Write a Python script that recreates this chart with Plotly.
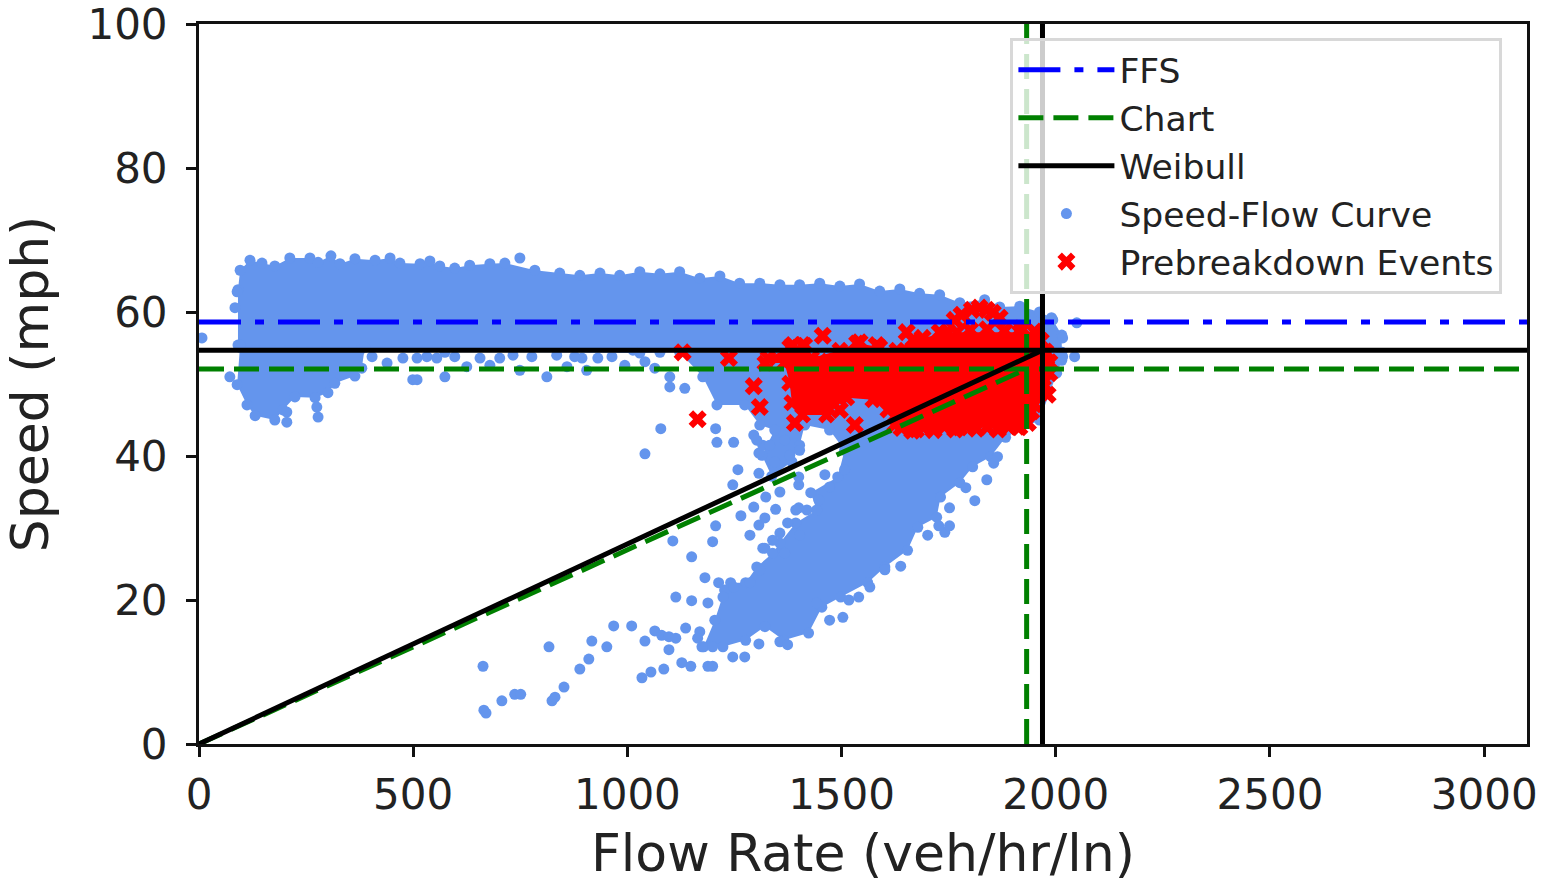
import plotly.graph_objects as go

# Reference lines
ffs_speed = 58.6
chart_speed = 52.1
chart_flow = 1932
weibull_speed = 54.7
weibull_flow = 1969
axis_x_max = 3100
axis_y_max = 100

# Outline of the dense free-flow band
band_flow = [91,91,96,119,147,177,212,259,278,308,329,364,411,446,469,516,539,562,597,632,679,714,784,842,889,936,982,1029,1076,1122,1169,1216,1262,1309,1356,1402,1449,1496,1542,1589,1636,1682,1729,1776,1834,1869,1916,1962,1990,2014,2014,1076,1029,376,96]
band_speed = [55.4,63.1,65.8,67.2,66.8,66.4,67.5,67.5,66.9,67.8,66.7,67.4,67.2,67.5,66.8,66.7,67.1,66.4,66.1,66.5,66.7,66.8,65.8,65.4,65.1,65.4,65.1,65.6,65.3,65.6,64.7,65.0,64.0,64.0,63.8,63.8,64.0,63.6,63.9,62.9,63.2,62.6,62.4,61.3,61.7,60.7,60.8,60.0,59.2,56.8,54.4,54.4,54.3,54.7,55.1]

# Outline of the low-flow blob under the band
blob_flow = [96,89,112,131,177,196,224,271,301,317,364,380,387]
blob_speed = [55.4,49.9,47.1,45.6,45.0,46.4,48.2,48.1,48.8,50.1,51.1,52.2,55.1]

# Outline of the congested cloud
cloud_flow = [1122,1176,1209,1274,1309,1344,1314,1337,1384,1402,1414,1472,1507,1491,1428,1442,1393,1356,1339,1302,1276,1241,1227,1204,1178,1223,1276,1321,1365,1423,1454,1498,1561,1601,1654,1678,1722,1731,1776,1806,1848,1883,1962,2014,2014]
cloud_speed = [54.4,51.0,47.1,47.1,44.3,43.6,40.1,37.2,39.2,41.5,44.3,43.6,40.8,37.1,34.9,32.5,30.7,27.9,26.5,24.6,22.4,22.4,21.4,17.2,13.5,13.5,14.4,16.3,14.4,15.4,19.0,20.4,22.4,24.6,26.9,30.1,31.5,34.3,36.3,38.5,39.9,42.6,45.0,53.3,54.4]

# Individually visible speed-flow observations
point_flow = [404,439,476,509,532,499,509,574,574,625,656,679,733,777,812,835,859,905,894,931,964,1013,1041,1099,1099,1134,1078,1041,555,597,702,749,877,994,1064,
              749,89,84,72,7,205,205,275,278,2016,2049,2016,2044,2002,1993,
              663,665,670,707,737,751,817,824,831,852,889,910,917,952,968,1010,1041,1034,1055,1085,1064,1080,1097,1113,1097,1136,1127,1148,1188,1199,1169,1164,1174,1199,1113,1150,1188,1181,1150,1106,1199,1206,1265,1295,1346,1323,1400,1356,1246,1258,1307,1209,1248,1206,1295,1307,1316,1286,1316,1307,1321,1400,1811,1701,1741,1752,1727,1752,1839,1790,1855,1864,1638,1274,1246,1307,1356,1374,1472,1503,1442,1517,1540,1566,1601,
              1302,1332,1367,1402,1379,1344,1400,1393,1374,1356,1321,1339,1472,1447,1419,1461,1507,1213,1223,1248,1286,1309,1367,1402]
point_speed = [53.8,52.9,53.6,53.6,53.8,50.6,50.6,51.0,54.4,52.4,53.6,52.6,54.0,53.8,51.0,54.0,52.4,51.9,53.6,53.6,53.8,54.7,53.1,51.0,49.6,49.4,43.8,40.3,53.6,53.8,53.6,51.9,53.8,52.6,52.2,
               67.5,62.8,60.6,51.0,56.4,46.1,44.7,46.8,45.4,56.4,58.5,53.8,53.8,51.5,58.9,
               10.8,4.7,4.3,6.0,6.9,6.9,13.5,6.0,6.5,7.9,10.4,11.8,14.3,13.5,16.4,16.4,14.3,9.2,10.0,10.4,15.7,15.1,14.9,14.7,13.1,16.1,11.3,10.8,10.8,10.8,15.6,14.7,13.5,13.5,20.4,19.9,19.6,23.1,26.0,28.2,28.1,30.3,31.7,32.9,32.6,34.3,36.0,35.0,36.0,38.1,37.6,41.9,41.9,43.8,42.9,40.4,41.5,29.0,27.2,30.4,31.4,32.8,33.8,29.0,29.4,30.3,30.3,32.8,36.7,35.6,39.0,39.9,24.7,12.1,12.1,13.9,14.2,13.8,17.2,17.6,19.6,20.0,20.4,21.8,24.2,
               42.2,41.5,42.2,40.8,40.1,39.2,37.1,32.5,30.7,29.3,27.2,28.3,35.7,33.9,32.5,37.4,38.1,22.4,20.4,21.8,22.4,24.2,26.5,29.0]

# Outline of the dense prebreakdown events
event_area_flow = [1328,1379,1414,1430,1496,1535,1589,1629,1666,1745,1769,1916,1953,1979,1979,1958,1944,1911,1776,1675,1624,1608,1573,1512,1465,1409,1384,1379,1367,1321]
event_area_speed = [53.6,55.1,55.4,53.6,54.7,55.7,55.1,54.7,56.1,57.1,57.2,57.2,57.2,54.3,52.4,48.8,46.1,44.0,43.9,43.6,44.3,46.4,47.8,48.1,45.7,45.7,47.4,50.1,52.9,52.9]

# Individually visible prebreakdown events
event_flow = [1129,1237,1295,1309,1164,1391,1456,1449,1496,1531,1652,1780,1822,1853,1804,1839,1981,1969,1386,1409,1542,1582,1729,1689,1748,1869,1764,
              1640,1665,1690,1715,1740,1765,1790,1815,1840,1865,1890,1915,1935,
              1800,1840,1880,1920,1950,1965,1975,1985,1985,1970,1950]
event_speed = [54.4,53.6,49.7,46.8,45.1,44.6,56.7,53.1,46.4,44.3,57.2,59.6,60.6,59.9,60.3,60.3,48.5,50.1,55.4,55.4,55.8,55.4,57.2,56.4,57.2,59.2,58.9,
               43.9,43.5,44.0,43.6,44.1,43.7,44.2,43.8,44.0,43.7,44.1,44.0,44.6,
               57.5,57.6,57.4,57.7,57.3,56.0,54.5,53.0,51.5,49.5,47.2]

BLUE = "#6495ED"
RED = "#FF0000"
FONT = "DejaVu Sans"
TEXT = "#222222"

fig = go.Figure()

# Speed-flow data
for fx, fy in [(band_flow, band_speed), (blob_flow, blob_speed), (cloud_flow, cloud_speed)]:
    fig.add_trace(go.Scatter(x=fx, y=fy, mode="markers", fill="toself", fillcolor=BLUE, line=dict(width=0),
                             marker=dict(color=BLUE, size=11), showlegend=False, hoverinfo="skip"))
fig.add_trace(go.Scatter(x=point_flow, y=point_speed, mode="markers", name="Speed-Flow Curve", legendrank=4,
                         marker=dict(color=BLUE, size=11)))

# Prebreakdown events
fig.add_trace(go.Scatter(x=event_area_flow, y=event_area_speed, mode="markers", fill="toself", fillcolor=RED,
                         line=dict(width=0), marker=dict(color=RED, symbol="x", size=15, line=dict(width=0)),
                         showlegend=False, hoverinfo="skip"))
fig.add_trace(go.Scatter(x=event_flow, y=event_speed, mode="markers", name="Prebreakdown Events", legendrank=5,
                         marker=dict(color=RED, symbol="x", size=16, line=dict(width=0))))

# Reference lines
fig.add_trace(go.Scatter(x=[0, axis_x_max], y=[ffs_speed, ffs_speed], mode="lines", name="FFS", legendrank=1,
                         line=dict(color="#0000FF", width=5, dash="42px,14px,9px,14px")))
fig.add_trace(go.Scatter(x=[0, axis_x_max, None, chart_flow, chart_flow, None, 0, chart_flow],
                         y=[chart_speed, chart_speed, None, 0, axis_y_max, None, 0, chart_speed],
                         mode="lines", name="Chart", legendrank=2,
                         line=dict(color="#008000", width=5, dash="25px,10px")))
fig.add_trace(go.Scatter(x=[0, axis_x_max, None, weibull_flow, weibull_flow, None, 0, weibull_flow],
                         y=[weibull_speed, weibull_speed, None, 0, axis_y_max, None, 0, weibull_speed],
                         mode="lines", name="Weibull", legendrank=3,
                         line=dict(color="#000000", width=5)))

axis_style = dict(showgrid=False, zeroline=False, showline=True, mirror=True, linecolor="#111111", linewidth=3,
                  ticks="outside", ticklen=10, tickwidth=3, tickcolor="#111111", ticklabeloverflow="allow",
                  tickfont=dict(family=FONT, size=42, color=TEXT), automargin=True)
fig.update_xaxes(range=[0, axis_x_max], tickvals=[0, 500, 1000, 1500, 2000, 2500, 3000], ticklabelstandoff=2,
                 title=dict(text="Flow Rate (veh/hr/ln)", font=dict(family=FONT, size=52, color=TEXT), standoff=18),
                 **axis_style)
fig.update_yaxes(range=[0, axis_y_max], tickvals=[0, 20, 40, 60, 80, 100], ticklabelstandoff=10,
                 title=dict(text="Speed (mph)", font=dict(family=FONT, size=52, color=TEXT), standoff=26),
                 **axis_style)
fig.update_layout(
    width=1542, height=883,
    margin=dict(l=199, r=15, t=24, b=139, autoexpand=False),
    paper_bgcolor="white", plot_bgcolor="white",
    showlegend=True,
    legend=dict(x=0.611, xanchor="left", y=0.981, yanchor="top",
                bgcolor="rgba(255,255,255,0.8)", bordercolor="#D8D8D8", borderwidth=3,
                font=dict(family=FONT, size=34.6, color=TEXT), itemwidth=96, traceorder="normal",
                entrywidth=405, entrywidthmode="pixels"),
)
fig.write_html("out.html", post_script="document.body.style.margin='0';", config={"displayModeBar": False})
